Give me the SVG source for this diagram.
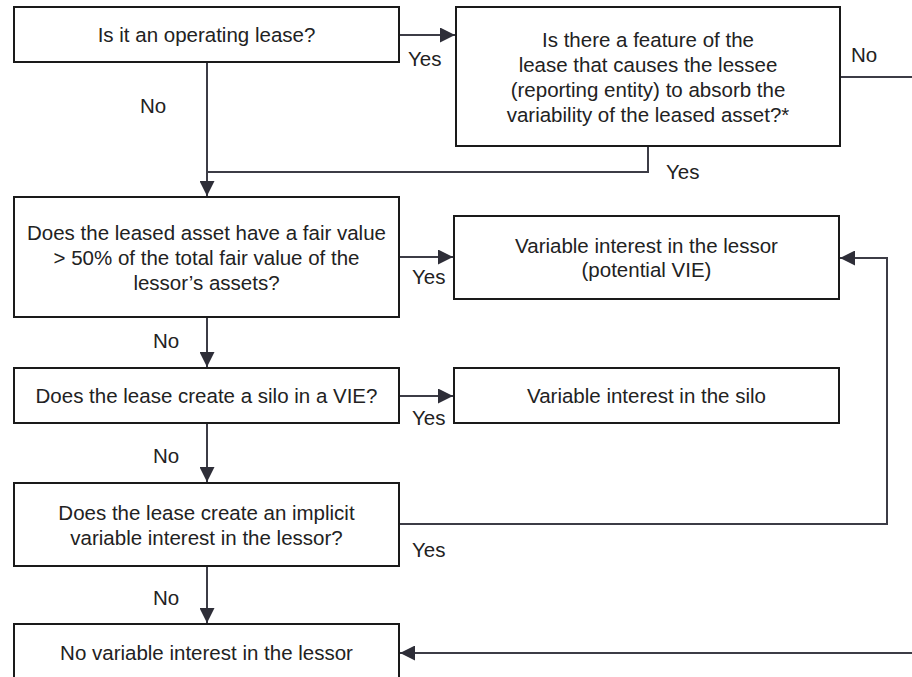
<svg xmlns="http://www.w3.org/2000/svg" width="912" height="677" viewBox="0 0 912 677">
<style>
.box{fill:#fff;stroke:#1a1a1a;stroke-width:2}
.t{font-family:"Liberation Sans",Arial,sans-serif;font-size:20.5px;fill:#222;text-anchor:middle}
.l{font-family:"Liberation Sans",Arial,sans-serif;font-size:20.5px;fill:#222}
.c{fill:none;stroke:#3c3c46;stroke-width:2}
</style>
<defs>
<marker id="ah" viewBox="0 0 15 15" refX="15" refY="7.5" markerWidth="15" markerHeight="15" markerUnits="userSpaceOnUse" orient="auto">
<path d="M0,0 L15,7.5 L0,15 Z" fill="#2e2e38"/>
</marker>
</defs>
<rect width="912" height="677" fill="#fff"/>
<g id="connectors">
<path class="c" d="M399,35 H455" marker-end="url(#ah)"/>
<path class="c" d="M207,62 V196" marker-end="url(#ah)"/>
<path class="c" d="M648,146 V172 H207"/>
<path class="c" d="M840,77 H912"/>
<path class="c" d="M399,257 H453" marker-end="url(#ah)"/>
<path class="c" d="M207,317 V367" marker-end="url(#ah)"/>
<path class="c" d="M399,396 H453" marker-end="url(#ah)"/>
<path class="c" d="M207,423 V482" marker-end="url(#ah)"/>
<path class="c" d="M399,524 H887 V258 H840" marker-end="url(#ah)"/>
<path class="c" d="M207,566 V623" marker-end="url(#ah)"/>
<path class="c" d="M912,653 H400" marker-end="url(#ah)"/>
<text class="l" x="408" y="66">Yes</text>
<text class="l" x="140" y="113">No</text>
<text class="l" x="851" y="62">No</text>
<text class="l" x="666" y="179">Yes</text>
<text class="l" x="412" y="284">Yes</text>
<text class="l" x="153" y="348">No</text>
<text class="l" x="412" y="425">Yes</text>
<text class="l" x="153" y="463">No</text>
<text class="l" x="412" y="557">Yes</text>
<text class="l" x="153" y="605">No</text>
</g>
<g id="n1">
<rect class="box" x="14" y="7" width="385" height="55"/>
<text class="t" x="206.5" y="42">Is it an operating lease?</text>
</g>
<g id="n2">
<rect class="box" x="456" y="7" width="384" height="139"/>
<text class="t" x="648" y="47">Is there a feature of the</text>
<text class="t" x="648" y="72">lease that causes the lessee</text>
<text class="t" x="648" y="97">(reporting entity) to absorb the</text>
<text class="t" x="648" y="122">variability of the leased asset?*</text>
</g>
<g id="n3">
<rect class="box" x="14" y="197" width="385" height="120"/>
<text class="t" x="206.5" y="240">Does the leased asset have a fair value</text>
<text class="t" x="206.5" y="265">&gt; 50% of the total fair value of the</text>
<text class="t" x="206.5" y="290">lessor’s assets?</text>
</g>
<g id="n4">
<rect class="box" x="454" y="216" width="385" height="83"/>
<text class="t" x="646.5" y="253">Variable interest in the lessor</text>
<text class="t" x="646.5" y="277">(potential VIE)</text>
</g>
<g id="n5">
<rect class="box" x="14" y="368" width="385" height="55"/>
<text class="t" x="206.5" y="403">Does the lease create a silo in a VIE?</text>
</g>
<g id="n6">
<rect class="box" x="454" y="368" width="385" height="55"/>
<text class="t" x="646.5" y="403">Variable interest in the silo</text>
</g>
<g id="n7">
<rect class="box" x="14" y="483" width="385" height="83"/>
<text class="t" x="206.5" y="520">Does the lease create an implicit</text>
<text class="t" x="206.5" y="545">variable interest in the lessor?</text>
</g>
<g id="n8">
<rect class="box" x="14" y="624" width="385" height="60"/>
<text class="t" x="206.5" y="660">No variable interest in the lessor</text>
</g>
</svg>
